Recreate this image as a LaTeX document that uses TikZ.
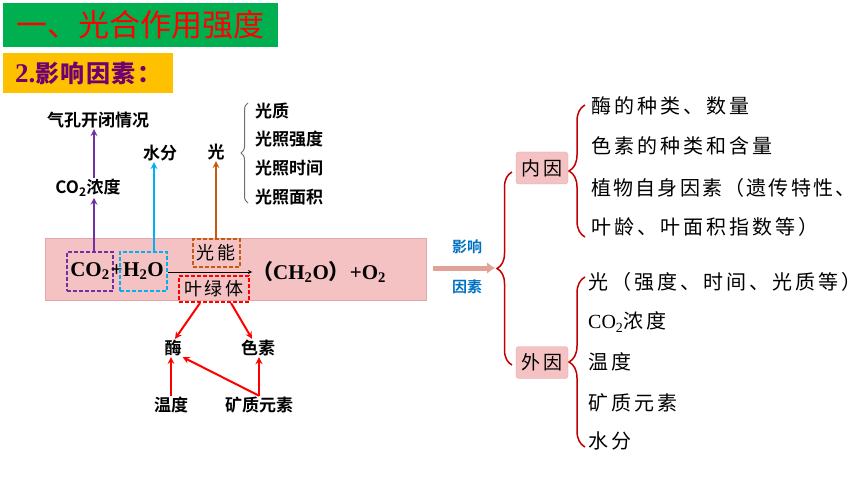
\documentclass[tikz,border=0pt]{standalone}
\usepackage{fontspec}
\setmainfont{Liberation Serif}
\newfontfamily\cjk{Noto Sans CJK SC}
\newfontfamily\cjkb{Noto Sans CJK SC Bold}
\newfontfamily\kai[LetterSpace=15]{Noto Sans CJK SC}
\usepackage{tikz}
\usetikzlibrary{arrows,arrows.meta,shapes,positioning,decorations.pathreplacing}
\usepackage{xcolor}
\definecolor{psgreen}{RGB}{0,176,80}
\definecolor{psred}{RGB}{255,0,0}
\definecolor{psorange}{RGB}{255,192,0}
\definecolor{pspurple}{RGB}{112,0,112}
\definecolor{psviolet}{RGB}{112,48,160}
\definecolor{pswater}{RGB}{0,176,240}
\definecolor{psbrown}{RGB}{197,90,17}
\definecolor{psblue}{RGB}{0,112,192}
\definecolor{pspink}{RGB}{244,194,194}
\definecolor{psedge}{RGB}{226,168,168}
\definecolor{psdarkred}{RGB}{192,0,0}
\definecolor{psgray}{RGB}{110,110,110}
\definecolor{psshaft}{RGB}{226,162,152}
\tikzstyle{dashbox} = [rectangle, line width=2pt, dash pattern=on 4pt off 2pt, inner sep=0pt]
\tikzstyle{tag} = [font=\cjkb\fontsize{17}{17}\selectfont, inner sep=1pt]
\tikzstyle{item} = [anchor=west, font=\kai\fontsize{20}{20}\selectfont, inner sep=0pt]
\tikzstyle{cause} = [rectangle, rounded corners=3pt, fill=pspink, draw=psedge, minimum width=52pt, minimum height=32pt, font=\kai\fontsize{19}{19}\selectfont]
\tikzstyle{arrow} = [line width=2pt,->,>=stealth]
\tikzstyle{bracket} = [decorate, line width=1.5pt, color=psdarkred]

\begin{document}
\begin{tikzpicture}[x=1pt, y=-1pt]
\useasboundingbox (0,0) rectangle (860,484);
\node (title) [anchor=north west, fill=psgreen, minimum width=275pt, minimum height=44pt, text=psred, font=\cjk\fontsize{31}{31}\selectfont] at (3,3) {一、光合作用强度};
\node (subtitle) [anchor=north west, fill=psorange, minimum width=170pt, minimum height=40pt, text=pspurple, font=\fontsize{27}{27}\selectfont\bfseries] at (3,53) {2.{\cjkb\fontsize{24}{24}\selectfont\addfontfeature{LetterSpace=6}影响因素：}};

\node (band) [anchor=north west, fill=pspink, draw=psedge, minimum width=381pt, minimum height=62pt] at (45,238) {};
\node (co2) [dashbox, draw=psviolet, minimum width=46pt, minimum height=39pt, font=\fontsize{21}{21}\selectfont\bfseries] at (90,271) {CO\textsubscript{2}};
\node (plus) [inner sep=0pt, font=\fontsize{21}{21}\selectfont\bfseries] at (116.5,271) {+};
\node (h2o) [dashbox, draw=pswater, minimum width=47pt, minimum height=39pt, font=\fontsize{21}{21}\selectfont\bfseries] at (143.5,271) {H\textsubscript{2}O};
\node (energy) [dashbox, draw=psbrown, minimum width=47pt, minimum height=28pt, font=\kai\fontsize{18}{18}\selectfont] at (216,253) {光能};
\node (chloro) [dashbox, draw=psred, minimum width=70pt, minimum height=26pt, font=\kai\fontsize{18}{18}\selectfont] at (214,289) {叶绿体};
\node (prod) [anchor=west, inner sep=0pt, font=\fontsize{21}{21}\selectfont\bfseries] at (252,272) {{\cjk（}CH\textsubscript{2}O{\cjk）}+O\textsubscript{2}};
\draw [thick, ->, >=stealth] (h2o.east |- prod.west) -- (prod.west);

\node (co2con) [tag] at (88,188) {CO\textsubscript{2}浓度};
\node (stoma) [tag] at (98,120) {气孔开闭情况};
\node (water) [tag] at (160,153) {水分};
\node (light) [tag] at (216,152) {光};
\draw [arrow, color=psviolet] ([xshift=4pt]co2.north) -- ([xshift=4pt]co2.north |- co2con.south);
\draw [arrow, color=psviolet] ([xshift=4pt]co2.north |- co2con.north) -- ([xshift=4pt]co2.north |- stoma.south);
\draw [arrow, color=pswater] ([xshift=10.5pt]h2o.north) -- ([xshift=10.5pt]h2o.north |- water.south);
\draw [arrow, color=psbrown] (energy.north) -- (energy.north |- light.south);

\draw [decorate, decoration={brace, amplitude=7pt}, color=psgray, line width=1pt] (248,203) -- (248,103);
\node (lq) [tag, anchor=west] at (254,111) {光质};
\node (lqd) [tag, anchor=west] at (254,139) {光照强度};
\node (lsj) [tag, anchor=west] at (254,168) {光照时间};
\node (lmj) [tag, anchor=west] at (254,197) {光照面积};

\node (mei) [tag] at (173,348) {酶};
\node (sesu) [tag] at (258,348) {色素};
\node (wendu) [tag] at (171,405) {温度};
\node (kuang) [tag] at (259,405) {矿质元素};
\draw [arrow, color=psred] ([xshift=-14pt]chloro.south) -- ([xshift=2pt]mei.north);
\draw [arrow, color=psred] ([xshift=17pt]chloro.south) -- ([xshift=-6pt]sesu.north);
\draw [arrow, color=psred] (wendu.north) -- (wendu.north |- mei.south);
\draw [arrow, color=psred] (kuang.north) -- (kuang.north |- sesu.south);
\draw [arrow, color=psred] (kuang.north) -- (mei.south east);

\node (yx) [font=\cjkb\fontsize{15}{15}\selectfont, text=psblue] at (467,247) {影响};
\node (ys) [font=\cjkb\fontsize{15}{15}\selectfont, text=psblue] at (467,287) {因素};
\coordinate (split) at (495,268);
\draw [line width=5pt, color=psshaft, -{Latex[length=8pt,width=12pt]}] (band.east |- split) ++(7,0) -- (split);

\draw [bracket, decoration={brace, amplitude=15pt}] (512,365) -- (512,172);
\node (inner) [cause] at (542,168) {内因};
\node (outer) [cause] at (542,362.5) {外因};

\draw [bracket, decoration={brace, amplitude=16pt}] (585,237) -- (585,105);
\node (n1) [item] at (591,106) {酶的种类、数量};
\node (n2) [item] at (591,146) {色素的种类和含量};
\node (n3) [item] at (591,188) {\addfontfeature{LetterSpace=11}植物自身因素（遗传特性、};
\node (n4) [item] at (591,227) {叶龄、叶面积指数等）};

\draw [bracket, decoration={brace, amplitude=16pt}] (585,447) -- (585,277);
\node (w1) [item] at (588,282) {光（强度、时间、光质等）};
\node (w2) [item] at (588,322) {\fontspec{Liberation Serif}\fontsize{20}{20}\selectfont CO\textsubscript{2}\kai 浓度};
\node (w3) [item] at (588,362) {温度};
\node (w4) [item] at (588,403) {矿质元素};
\node (w5) [item] at (588,441) {水分};
\end{tikzpicture}
\end{document}
